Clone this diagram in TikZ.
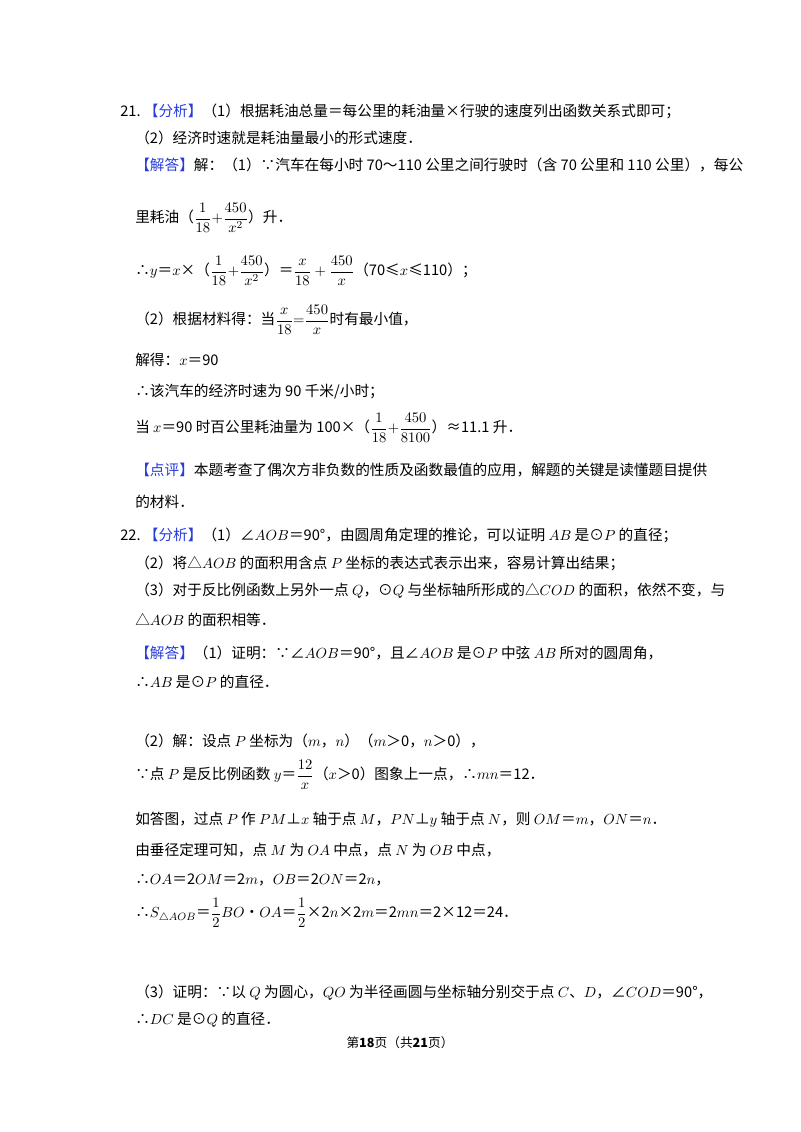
\documentclass[tikz,border=0pt]{standalone}
\usepackage{fontspec}
\usepackage{amsmath,amssymb}
\setmainfont{Noto Sans CJK SC}
\definecolor{bl}{RGB}{40,60,220}
\newcommand{\br}[1]{\textcolor{bl}{【#1】}}
\begin{document}
\begin{tikzpicture}[x=0.75pt,y=-0.75pt,
  ln/.style={anchor=west,inner sep=0pt,font=\fontsize{11}{13}\selectfont}]
\useasboundingbox (0,0) rectangle (800,1132);
\node[ln] (l1) at (120,111) {21.\ \br{分析}（1）根据耗油总量＝每公里的耗油量×行驶的速度列出函数关系式即可；};
\node[ln] (l2) at (135,138) {（2）经济时速就是耗油量最小的形式速度．};
\node[ln] (l3) at (135,165) {\br{解答}解：（1）∵汽车在每小时 70～110 公里之间行驶时（含 70 公里和 110 公里），每公};
\node[ln] (l4) at (135,218) {里耗油（$\displaystyle\frac{1}{18}{+}\frac{450}{x^2}$）升．};
\node[ln] (l5) at (135,271) {∴$y$＝$x$×（$\displaystyle\frac{1}{18}{+}\frac{450}{x^2}$）＝$\displaystyle\frac{x}{18}+\frac{450}{x}$（70≤$x$≤110）；};
\node[ln] (l6) at (135,320) {（2）根据材料得：当$\displaystyle\frac{x}{18}{=}\frac{450}{x}$时有最小值，};
\node[ln] (l7) at (135,360) {解得：$x$＝90};
\node[ln] (l8) at (135,392) {∴该汽车的经济时速为 90 千米/小时；};
\node[ln] (l9) at (135,428) {当 $x$＝90 时百公里耗油量为 100×（$\displaystyle\frac{1}{18}{+}\frac{450}{8100}$）≈11.1 升．};
\node[ln] (l10) at (135,470) {\br{点评}本题考查了偶次方非负数的性质及函数最值的应用，解题的关键是读懂题目提供};
\node[ln] (l11) at (135,502) {的材料．};
\node[ln] (l12) at (120,535) {22.\ \br{分析}（1）∠$AOB$＝90°，由圆周角定理的推论，可以证明 $AB$ 是⊙$P$ 的直径；};
\node[ln] (l13) at (135,563) {（2）将△$AOB$ 的面积用含点 $P$ 坐标的表达式表示出来，容易计算出结果；};
\node[ln] (l14) at (135,591) {（3）对于反比例函数上另外一点 $Q$，⊙$Q$ 与坐标轴所形成的△$COD$ 的面积，依然不变，与};
\node[ln] (l15) at (135,620) {△$AOB$ 的面积相等．};
\node[ln] (l16) at (135,653) {\br{解答}（1）证明：∵∠$AOB$＝90°，且∠$AOB$ 是⊙$P$ 中弦 $AB$ 所对的圆周角，};
\node[ln] (l17) at (135,682) {∴$AB$ 是⊙$P$ 的直径．};
\node[ln] (l18) at (135,741) {（2）解：设点 $P$ 坐标为（$m$，$n$）（$m$＞0，$n$＞0），};
\node[ln] (l19) at (135,775) {∵点 $P$ 是反比例函数 $y$＝$\displaystyle\frac{12}{x}$（$x$＞0）图象上一点，∴$mn$＝12．};
\node[ln] (l20) at (135,820) {如答图，过点 $P$ 作 $PM$⊥$x$ 轴于点 $M$，$PN$⊥$y$ 轴于点 $N$，则 $OM$＝$m$，$ON$＝$n$．};
\node[ln] (l21) at (135,850) {由垂径定理可知，点 $M$ 为 $OA$ 中点，点 $N$ 为 $OB$ 中点，};
\node[ln] (l22) at (135,880) {∴$OA$＝2$OM$＝2$m$，$OB$＝2$ON$＝2$n$，};
\node[ln] (l23) at (135,913) {∴$S_{\triangle AOB}$＝$\displaystyle\frac{1}{2}$$BO$•$OA$＝$\displaystyle\frac{1}{2}$×2$n$×2$m$＝2$mn$＝2×12＝24．};
\node[ln] (l24) at (135,993) {（3）证明：∵以 $Q$ 为圆心，$QO$ 为半径画圆与坐标轴分别交于点 $C$、$D$，∠$COD$＝90°，};
\node[ln] (l25) at (135,1020) {∴$DC$ 是⊙$Q$ 的直径．};
\node[inner sep=0pt,font=\fontsize{9.5}{11}\selectfont] (ft) at (400,1043) {第\textbf{18}页（共\textbf{21}页）};
\end{tikzpicture}
\end{document}
